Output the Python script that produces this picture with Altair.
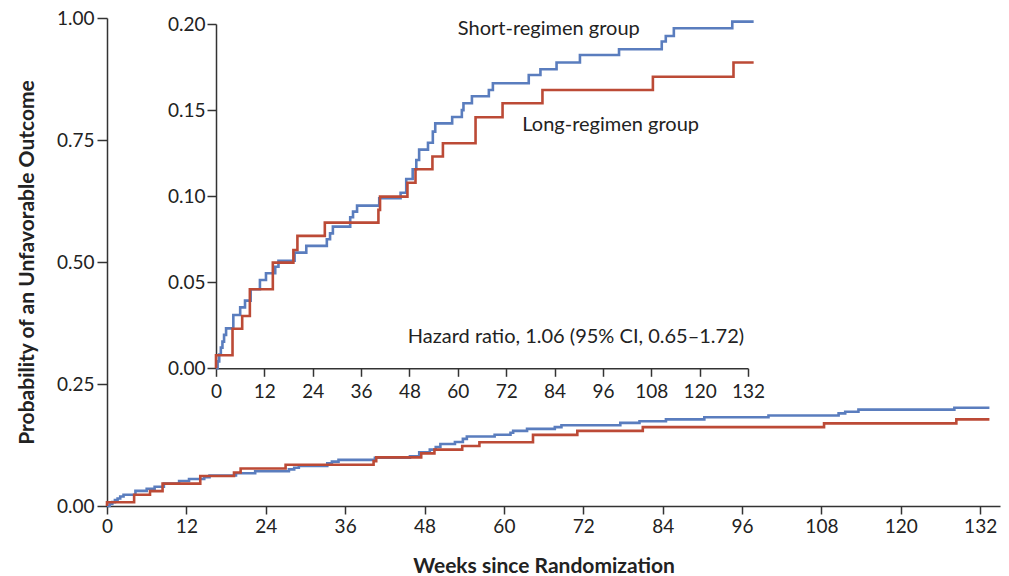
import altair as alt
import pandas as pd

# ---- data ----
short_weeks = [0, 0.4, 0.8, 1.2, 1.6, 2.0, 2.5, 4.3, 6.0, 7.2, 8.6, 10.9, 12.4, 14.7, 15.5, 19.5,
               22.4, 27.5, 28.3, 29.0, 33.3, 34.0, 35.0, 40.5, 45.8, 47.2, 48.8, 49.7, 50.4, 52.6,
               53.8, 54.4, 58.6, 61.0, 61.4, 63.5, 67.7, 68.7, 77.6, 80.5, 84.5, 90.3, 100.0,
               110.6, 111.6, 113.6, 128.1, 133.4]
short_probs = [0, 0.004, 0.008, 0.012, 0.0155, 0.0194, 0.0232, 0.031, 0.0354, 0.0393, 0.0459,
               0.0513, 0.0552, 0.059, 0.0625, 0.0672, 0.0711, 0.075, 0.0784, 0.0823, 0.0877,
               0.091, 0.0945, 0.0988, 0.102, 0.110, 0.1156, 0.121, 0.127, 0.131, 0.1375, 0.1423,
               0.146, 0.150, 0.154, 0.158, 0.1617, 0.1656, 0.1704, 0.1737, 0.1776, 0.182, 0.1853,
               0.1898, 0.193, 0.1975, 0.2014, 0.2014]

long_weeks = [0, 0, 4.1, 6.5, 8.4, 14.1, 19.2, 20.2, 27.0, 40.3, 40.7, 47.5, 49.5, 53.7, 56.3,
              64.4, 71.1, 81.0, 108.4, 128.4, 133.4]
long_probs = [0, 0.0076, 0.023, 0.0304, 0.0459, 0.0614, 0.0687, 0.0769, 0.0846, 0.092, 0.0997,
              0.1078, 0.1156, 0.123, 0.1307, 0.1458, 0.154, 0.1617, 0.1694, 0.1776, 0.1776]

groups = ["Short-regimen group", "Long-regimen group"]
colors = ["#5A7DBE", "#BC4A36"]

week_ticks = [0, 12, 24, 36, 48, 60, 72, 84, 96, 108, 120, 132]
main_prob_ticks = [0, 0.25, 0.5, 0.75, 1.0]
inset_prob_ticks = [0, 0.05, 0.10, 0.15, 0.20]

note_texts = ["Short-regimen group", "Long-regimen group",
              "Hazard ratio, 1.06 (95% CI, 0.65\u20131.72)"]
note_weeks = [60.0, 76.0, 47.6]
note_probs = [0.1936, 0.1377, 0.0147]

# ---- tables ----
rows = []
for i, (w, p) in enumerate(zip(short_weeks, short_probs)):
    rows.append({"group": groups[0], "week": w, "prob": p, "i": i})
for i, (w, p) in enumerate(zip(long_weeks, long_probs)):
    rows.append({"group": groups[1], "week": w, "prob": p, "i": i})
df = pd.DataFrame(rows)
notes = pd.DataFrame({"text": note_texts, "week": note_weeks, "prob": note_probs})

FONT = "Lato"
AX = "#333333"
TXT = "#222222"

common = dict(grid=False, domainColor=AX, tickColor=AX, domainWidth=1.5, tickWidth=1.5,
              labelFont=FONT, labelFontSize=19, labelColor=TXT, labelOverlap=False,
              labelFlush=False)

# ---- main chart ----
x_main = alt.X("week:Q", scale=alt.Scale(domain=[0, 135], nice=False),
               axis=alt.Axis(values=week_ticks, title="Weeks since Randomization",
                             tickSize=8, labelPadding=3, titleFont=FONT,
                             titleFontSize=21, titleFontWeight="bold", titleColor=TXT,
                             titleX=436.5, titleY=66, titleBaseline="alphabetic",
                             titleAnchor="middle", titleAlign="center", **common))
y_main = alt.Y("prob:Q", scale=alt.Scale(domain=[0, 1], nice=False),
               axis=alt.Axis(values=main_prob_ticks, format=".2f",
                             title="Probability of an Unfavorable Outcome",
                             tickSize=10, labelPadding=3, titleFont=FONT,
                             titleFontSize=21, titleFontWeight="bold", titleColor=TXT,
                             titleX=-74, titleY=244, titleBaseline="alphabetic",
                             titleAngle=-90, titleAlign="center", **common))

def lines(xenc, yenc, g, c):
    return alt.Chart(df).transform_filter(alt.datum.group == g).mark_line(
        interpolate="step-after", strokeWidth=2.6, color=c
    ).encode(x=xenc, y=yenc, order="i:Q")

main = alt.layer(lines(x_main, y_main, groups[0], colors[0]),
                 lines(x_main, y_main, groups[1], colors[1]))

# ---- inset ----
x_in_scale = alt.Scale(domain=[0, 132], range=[109, 641], nice=False)
y_in_scale = alt.Scale(domain=[0, 0.2], range=[350.3, 6], nice=False)
x_in_axis = alt.Axis(orient="bottom", offset=-137.7, values=week_ticks, title=None,
                     tickSize=8, labelPadding=6, **common)
y_in_axis = alt.Axis(orient="left", offset=-109, values=inset_prob_ticks, format=".2f",
                     title=None, tickSize=9, labelPadding=2, **common)
x_in = alt.X("week:Q", scale=x_in_scale, axis=x_in_axis)
y_in = alt.Y("prob:Q", scale=y_in_scale, axis=y_in_axis)

inset_text = alt.Chart(notes).mark_text(
    align="left", baseline="alphabetic", font=FONT, fontSize=20, color=TXT
).encode(x=x_in, y=y_in, text="text:N")

inset = alt.layer(lines(x_in, y_in, groups[0], colors[0]),
                  lines(x_in, y_in, groups[1], colors[1]),
                  inset_text)

chart = alt.layer(main, inset).resolve_scale(x="independent", y="independent").properties(
    width=893, height=488,
    autosize=alt.AutoSizeParams(type="none"),
    padding={"left": 99, "top": 10, "right": 1, "bottom": 70},
    background="white",
).configure_view(stroke=None)

chart.save("out.html", embed_options={"renderer": "svg", "actions": False})
